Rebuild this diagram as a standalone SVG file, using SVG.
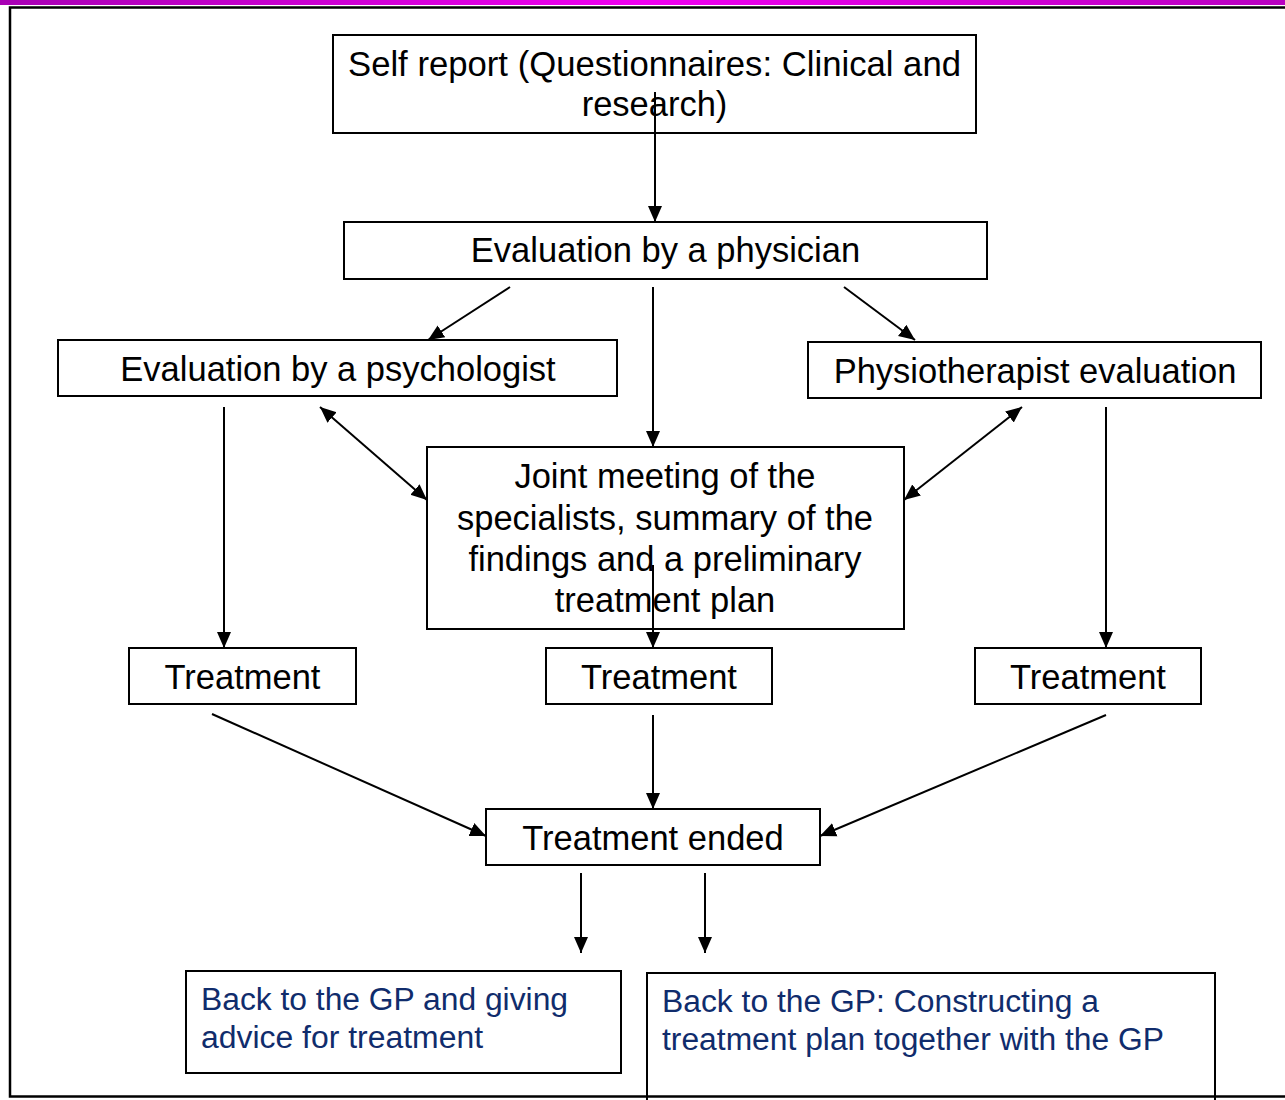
<svg xmlns="http://www.w3.org/2000/svg" width="1285" height="1100" viewBox="0 0 1285 1100">
<defs>
<linearGradient id="bar" x1="0" y1="0" x2="1" y2="0">
<stop offset="0" stop-color="#a800b4"/>
<stop offset="0.5" stop-color="#f000f0"/>
<stop offset="1" stop-color="#b800c0"/>
</linearGradient>
<marker id="ah" markerUnits="userSpaceOnUse" markerWidth="17" markerHeight="17" viewBox="0 0 17 17" refX="16" refY="8.5" orient="auto-start-reverse">
<path d="M0,1.5 L16,8.5 L0,15.5 Z" fill="#000"/>
</marker>
<style>
.box{fill:#fff;stroke:#000;stroke-width:2}
.t{font-family:"Liberation Sans",Arial,sans-serif;font-size:34.5px;fill:#000;text-anchor:middle}
.b{font-family:"Liberation Sans",Arial,sans-serif;font-size:31px;fill:#102c6c}
.c{stroke:#000;stroke-width:2;fill:none}
</style>
</defs>
<rect x="0" y="0" width="1285" height="1100" fill="#fff"/>
<rect x="0" y="0" width="1285" height="5" fill="url(#bar)"/>

<g id="self-report"><rect class="box" x="333" y="35" width="643" height="98"/><text class="t" x="654.5" y="76" textLength="613" lengthAdjust="spacingAndGlyphs">Self report (Questionnaires: Clinical and</text><text class="t" x="654.5" y="116">research)</text></g>
<g id="physician"><rect class="box" x="344" y="222" width="643" height="57"/><text class="t" x="665.5" y="262">Evaluation by a physician</text></g>
<g id="psychologist"><rect class="box" x="58" y="340" width="559" height="56"/><text class="t" x="338" y="381">Evaluation by a psychologist</text></g>
<g id="physio"><rect class="box" x="808" y="342" width="453" height="56"/><text class="t" x="1035" y="383">Physiotherapist evaluation</text></g>
<g id="joint"><rect class="box" x="427" y="447" width="477" height="182"/><text class="t" x="665" y="488">Joint meeting of the</text><text class="t" x="665" y="530">specialists, summary of the</text><text class="t" x="665" y="571">findings and a preliminary</text><text class="t" x="665" y="612">treatment plan</text></g>
<g id="treat-left"><rect class="box" x="129" y="648" width="227" height="56"/><text class="t" x="242.5" y="689">Treatment</text></g>
<g id="treat-mid"><rect class="box" x="546" y="648" width="226" height="56"/><text class="t" x="659" y="689">Treatment</text></g>
<g id="treat-right"><rect class="box" x="975" y="648" width="226" height="56"/><text class="t" x="1088" y="689">Treatment</text></g>
<g id="ended"><rect class="box" x="486" y="809" width="334" height="56"/><text class="t" x="653" y="850">Treatment ended</text></g>
<g id="gp-advice"><rect class="box" x="186" y="971" width="435" height="102"/><text class="b" x="201" y="1010" textLength="367" lengthAdjust="spacingAndGlyphs">Back to the GP and giving</text><text class="b" x="201" y="1048" textLength="282" lengthAdjust="spacingAndGlyphs">advice for treatment</text></g>
<g id="gp-plan"><rect class="box" x="647" y="973" width="568" height="140"/><text class="b" x="662" y="1012" textLength="437" lengthAdjust="spacingAndGlyphs">Back to the GP: Constructing a</text><text class="b" x="662" y="1050" textLength="502" lengthAdjust="spacingAndGlyphs">treatment plan together with the GP</text></g>

<rect x="10" y="7.5" width="1290" height="1089" fill="none" stroke="#000" stroke-width="2.5"/>

<g id="connectors">
<line class="c" x1="655" y1="92" x2="655" y2="222" marker-end="url(#ah)"/>
<line class="c" x1="510" y1="287" x2="428" y2="340" marker-end="url(#ah)"/>
<line class="c" x1="653" y1="287" x2="653" y2="447" marker-end="url(#ah)"/>
<line class="c" x1="844" y1="287" x2="915" y2="340" marker-end="url(#ah)"/>
<line class="c" x1="320" y1="407" x2="427" y2="500" marker-start="url(#ah)" marker-end="url(#ah)"/>
<line class="c" x1="1022" y1="407" x2="904" y2="500" marker-start="url(#ah)" marker-end="url(#ah)"/>
<line class="c" x1="224" y1="407" x2="224" y2="648" marker-end="url(#ah)"/>
<line class="c" x1="653" y1="565" x2="653" y2="648" marker-end="url(#ah)"/>
<line class="c" x1="1106" y1="407" x2="1106" y2="648" marker-end="url(#ah)"/>
<line class="c" x1="212" y1="714" x2="486" y2="836" marker-end="url(#ah)"/>
<line class="c" x1="653" y1="715" x2="653" y2="809" marker-end="url(#ah)"/>
<line class="c" x1="1106" y1="715" x2="820" y2="836" marker-end="url(#ah)"/>
<line class="c" x1="581" y1="873" x2="581" y2="953" marker-end="url(#ah)"/>
<line class="c" x1="705" y1="873" x2="705" y2="953" marker-end="url(#ah)"/>
</g>
</svg>
